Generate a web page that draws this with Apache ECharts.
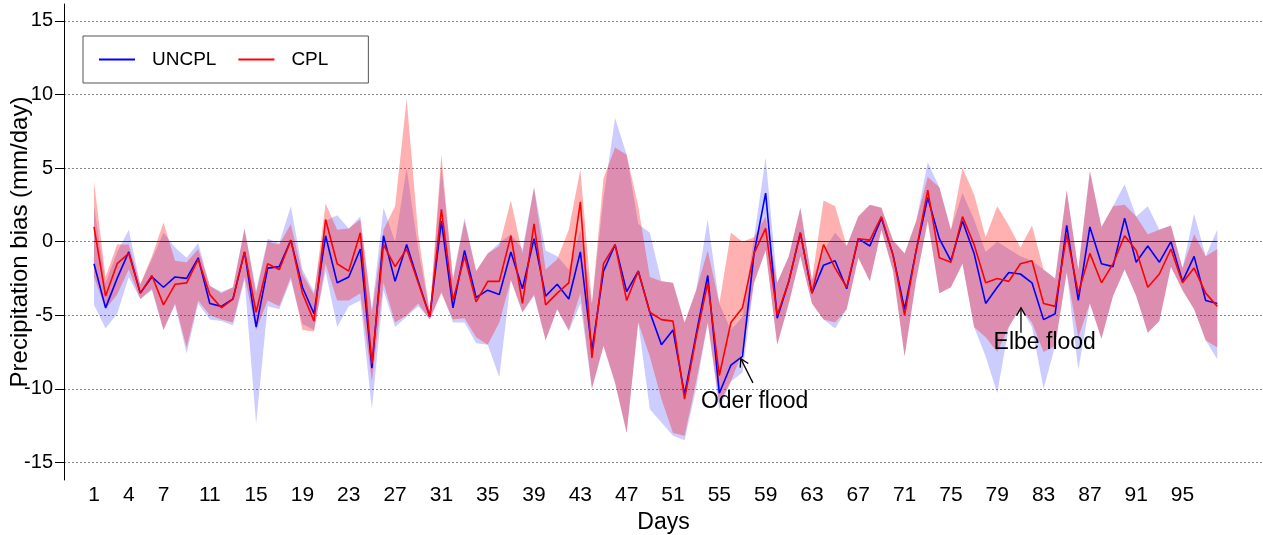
<!DOCTYPE html>
<html>
<head>
<meta charset="utf-8">
<title>Precipitation bias</title>
<script src="https://cdn.jsdelivr.net/npm/echarts@6/dist/echarts.min.js"></script>
<style>
  html, body { margin: 0; padding: 0; background: #fff; }
  #chart { width: 1263px; height: 535px; }
</style>
</head>
<body>
<div id="chart"></div>
<script>
// days of the run
var days = [1,2,3,4,5,6,7,8,9,10,11,12,13,14,15,16,17,18,19,20,
  21,22,23,24,25,26,27,28,29,30,31,32,33,34,35,36,37,38,39,40,
  41,42,43,44,45,46,47,48,49,50,51,52,53,54,55,56,57,58,59,60,
  61,62,63,64,65,66,67,68,69,70,71,72,73,74,75,76,77,78,79,80,
  81,82,83,84,85,86,87,88,89,90,91,92,93,94,95,96,97,98];
var dayTicks = [1,4,7,11,15,19,23,27,31,35,39,43,47,51,55,59,63,67,71,75,79,83,87,91,95];
var yTicks = [-15,-10,-5,0,5,10,15];

// ensemble mean bias (mm/day)
var uncpl = [-1.5,-4.5,-2.5,-0.7,-3.5,-2.4,-3.1,-2.4,-2.5,-1.1,
  -4.2,-4.4,-3.9,-0.7,-5.8,-1.8,-1.7,0.1,-3.1,-4.9,
  0.4,-2.8,-2.4,-0.5,-8.6,0.4,-2.7,-0.2,-2.7,-5.1,
  1.4,-4.5,-0.6,-3.8,-3.3,-3.6,-0.7,-3.2,0.2,-3.7,
  -2.9,-3.9,-0.7,-7.4,-2.0,-0.2,-3.4,-2.0,-4.8,-7.0,
  -6.0,-10.4,-6.3,-2.3,-10.3,-8.4,-7.8,-0.8,3.3,-5.2,
  -2.7,0.6,-3.5,-1.6,-1.3,-3.2,0.2,-0.3,1.6,-0.9,
  -4.6,-0.6,3.0,0.2,-1.3,1.4,-0.8,-4.2,-3.1,-2.1,
  -2.2,-2.8,-5.3,-4.9,1.1,-4.0,1.0,-1.5,-1.7,1.6,
  -1.4,-0.3,-1.4,0.0,-2.7,-1.0,-4.0,-4.2];
var cpl = [1.0,-3.7,-1.5,-0.8,-3.5,-2.3,-4.3,-2.9,-2.8,-1.2,
  -3.6,-4.5,-3.9,-0.7,-4.8,-1.5,-1.9,0.1,-3.5,-5.4,
  1.5,-1.5,-2.0,0.6,-8.3,-0.2,-1.7,-0.5,-2.8,-5.1,
  2.2,-4.0,-1.0,-4.1,-2.7,-2.7,0.4,-4.2,1.2,-4.3,
  -3.5,-2.8,2.7,-7.9,-1.5,-0.2,-4.0,-2.0,-4.8,-5.3,
  -5.4,-10.7,-6.5,-2.8,-9.1,-5.5,-4.5,-0.8,0.9,-5.0,
  -2.7,0.6,-3.5,-0.2,-1.8,-3.1,0.2,0.1,1.7,-0.9,
  -5.0,-0.6,3.5,-1.1,-1.4,1.7,-0.2,-2.8,-2.5,-2.7,
  -1.5,-1.3,-4.2,-4.4,0.5,-3.5,-0.8,-2.8,-1.5,0.4,
  -0.6,-3.1,-2.2,-0.5,-2.8,-1.8,-3.5,-4.4];

// ensemble spread (min / max)
var uncplLo = [-4.3,-5.9,-4.9,-2.4,-3.9,-3.3,-6.0,-4.3,-7.6,-4.2,
  -5.3,-5.4,-5.7,-2.6,-12.4,-4.4,-4.6,-2.6,-5.6,-6.0,
  -2.0,-5.8,-4.4,-4.0,-11.4,-3.3,-5.8,-5.1,-4.4,-5.3,
  -3.4,-5.5,-5.5,-6.9,-7.0,-9.2,-2.6,-4.8,-3.7,-6.7,
  -4.6,-6.1,-4.2,-10.0,-7.1,-9.6,-13.0,-5.5,-11.4,-12.3,
  -13.2,-13.5,-10.0,-5.5,-11.4,-9.5,-8.9,-2.8,-0.6,-7.0,
  -4.2,-1.0,-4.2,-5.3,-5.9,-4.6,-1.1,-2.7,0.8,-2.0,
  -7.8,-2.6,1.4,-3.5,-3.1,-1.5,-5.8,-7.8,-10.3,-5.8,
  -4.5,-5.8,-10.0,-7.1,-2.1,-8.7,-4.2,-6.6,-3.7,-1.9,
  -3.7,-6.2,-5.4,-1.7,-3.3,-4.6,-6.7,-8.0];
var uncplHi = [2.4,-2.8,-0.7,0.8,-2.9,-1.2,0.6,-0.4,-1.1,-0.1,
  -3.0,-3.4,-3.1,0.9,-3.3,0.2,-0.1,2.4,-1.9,-3.4,
  1.4,1.8,0.9,1.7,-4.6,2.3,0.0,5.0,-0.5,-4.8,
  5.1,-2.4,1.6,-2.0,-0.8,-0.1,0.5,-0.5,3.7,-0.6,
  -1.0,-1.9,0.8,-4.2,3.0,8.4,5.9,1.2,0.6,-2.7,
  -2.8,-5.5,-3.3,1.5,-4.2,-6.0,-5.1,0.3,5.7,-2.8,
  -1.0,2.3,-2.6,-0.6,0.6,-0.3,1.7,2.5,2.3,0.1,
  -0.8,1.4,5.4,3.7,0.8,3.3,1.5,-0.7,0.0,-0.5,
  -1.0,-1.3,-1.9,-2.5,3.5,-1.9,4.8,1.0,2.4,3.9,
  1.7,2.4,0.8,1.1,-1.8,1.9,-1.0,0.8];
var cplLo = [-2.4,-4.6,-3.6,-1.9,-3.9,-3.2,-6.0,-4.2,-7.2,-4.0,
  -5.0,-5.3,-5.5,-2.4,-6.0,-4.0,-4.4,-2.4,-6.0,-6.1,
  -1.5,-4.0,-4.0,-3.5,-9.5,-2.8,-5.5,-5.0,-4.2,-5.3,
  -3.5,-5.3,-5.2,-6.5,-7.0,-5.5,-2.6,-4.8,-3.6,-6.7,
  -4.6,-6.0,-3.5,-10.0,-7.1,-9.6,-13.0,-5.5,-7.8,-10.7,
  -13.0,-13.2,-9.5,-5.5,-11.0,-9.5,-7.5,-2.8,-0.6,-7.0,
  -4.2,-1.0,-4.2,-5.3,-5.5,-4.6,-1.1,-2.7,0.8,-2.0,
  -7.8,-2.6,1.4,-3.5,-3.1,-1.5,-5.8,-6.5,-7.5,-5.8,
  -4.5,-5.5,-7.5,-7.1,-2.1,-6.5,-4.2,-6.6,-3.7,-1.9,
  -3.7,-6.2,-5.4,-1.7,-3.3,-4.6,-6.7,-7.2];
var cplHi = [4.1,-2.4,-0.2,-0.2,-2.9,-1.0,1.3,-1.3,-1.4,-0.5,
  -3.0,-3.5,-3.1,0.9,-3.5,0.0,-0.2,1.2,-2.2,-3.6,
  2.6,0.8,0.9,1.5,-4.8,0.8,2.4,9.7,0.5,-4.8,
  5.9,-2.6,1.4,-2.0,-0.8,-0.3,2.8,-0.8,3.7,-1.9,
  -1.2,0.8,4.9,-4.2,4.3,6.4,5.9,2.4,-2.4,-2.7,
  -2.8,-5.5,-3.3,-0.6,-4.2,0.6,0.0,0.3,1.7,-2.8,
  -1.0,2.3,-2.6,2.8,2.4,-0.3,1.7,2.5,2.3,0.1,
  -0.8,1.4,4.4,3.7,0.8,5.0,3.2,0.3,2.4,1.1,
  -0.4,1.1,-1.9,-2.5,3.5,-1.9,4.8,1.0,2.4,2.5,
  1.7,0.5,0.8,1.1,-1.8,0.5,-1.0,-0.5];

// flood annotations
var annoText = ['Oder flood', 'Elbe flood'];
var annoHead = [[56.85, -7.95], [81.05, -4.5]];
var annoTail = [[57.9, -9.6], [81.05, -6.2]];
var annoTextAt = [[58.05, -10.86], [83.1, -6.85]];

var FONT = '"Liberation Sans", Arial, Helvetica, sans-serif';

function pairs(ys) {
  return days.map(function (d, i) { return [d, ys[i]]; });
}

// shaded min-max envelope, drawn as one polygon through the axis scales
function bandSeries(lo, hi, color) {
  return {
    type: 'custom',
    silent: true,
    data: days.map(function (d, i) { return [d, lo[i], hi[i]]; }),
    encode: { x: 0, y: [1, 2] },
    renderItem: function (params, api) {
      if (params.dataIndex !== 0) return null;
      var pts = [];
      for (var i = 0; i < days.length; i++) pts.push(api.coord([days[i], hi[i]]));
      for (var j = days.length - 1; j >= 0; j--) pts.push(api.coord([days[j], lo[j]]));
      return { type: 'polygon', shape: { points: pts }, style: { fill: color } };
    }
  };
}

var chart = echarts.init(document.getElementById('chart'), null, { renderer: 'canvas' });

var series = [
  bandSeries(uncplLo, uncplHi, 'rgba(0,0,255,0.2)'),
  bandSeries(cplLo, cplHi, 'rgba(255,0,0,0.31)')
];

series.push({
  name: 'UNCPL',
  type: 'line',
  data: pairs(uncpl),
  symbol: 'none',
  lineStyle: { color: '#0000ff', width: 1.6 },
  itemStyle: { color: '#0000ff' },
  emphasis: { disabled: true },
  markLine: {
    silent: true,
    symbol: 'none',
    label: { show: false },
    lineStyle: { color: '#333', type: 'solid', width: 1 },
    data: [[{ coord: [days[0], 0] }, { coord: [days[days.length - 1], 0] }]]
  }
});
series.push({
  name: 'CPL',
  type: 'line',
  data: pairs(cpl),
  symbol: 'none',
  lineStyle: { color: '#ff0000', width: 1.6 },
  itemStyle: { color: '#ff0000' },
  emphasis: { disabled: true }
});

// arrows + labels for the flood events
series.push({
  type: 'custom',
  silent: true,
  clip: false,
  z: 10,
  data: annoTextAt,
  renderItem: function (params, api) {
    var i = params.dataIndex;
    var h = api.coord(annoHead[i]);
    var t = api.coord(annoTail[i]);
    var p = api.coord(annoTextAt[i]);
    var ang = Math.atan2(t[1] - h[1], t[0] - h[0]);
    var L = 9, a = Math.PI / 6;
    var w1 = [h[0] + L * Math.cos(ang + a), h[1] + L * Math.sin(ang + a)];
    var w2 = [h[0] + L * Math.cos(ang - a), h[1] + L * Math.sin(ang - a)];
    return {
      type: 'group',
      children: [
        { type: 'line', shape: { x1: t[0], y1: t[1], x2: h[0], y2: h[1] },
          style: { stroke: '#000', lineWidth: 1.3 } },
        { type: 'polyline', shape: { points: [w1, h, w2] },
          style: { stroke: '#000', fill: null, lineWidth: 1.3 } },
        { type: 'text', x: p[0], y: p[1],
          style: { text: annoText[i], fill: '#000', font: '23px ' + FONT,
                   align: 'center', verticalAlign: 'middle',
                   textAlign: 'center', textVerticalAlign: 'middle' } }
      ]
    };
  }
});

chart.setOption({
  animation: false,
  textStyle: { fontFamily: FONT },
  grid: { left: 64, right: 0, top: 4, bottom: 55, containLabel: false, outerBoundsMode: 'none' },
  legend: {
    data: ['UNCPL', 'CPL'],
    left: 83,
    top: 36,
    orient: 'horizontal',
    icon: 'rect',
    borderColor: '#555',
    borderWidth: 1,
    padding: [14, 40, 14, 16],
    itemGap: 22,
    itemWidth: 36,
    itemHeight: 2,
    textStyle: { fontSize: 19, color: '#000', padding: [0, 0, 0, 12] }
  },
  xAxis: {
    type: 'value',
    min: -1.59,
    max: 101.95,
    name: 'Days',
    nameLocation: 'middle',
    nameGap: 28,
    nameTextStyle: { fontSize: 23, color: '#000' },
    axisLine: { show: false, onZero: false },
    axisTick: { show: false },
    splitLine: { show: false },
    axisLabel: { customValues: dayTicks, fontSize: 21, color: '#000', margin: 5 }
  },
  yAxis: {
    type: 'value',
    min: -16.2,
    max: 16.15,
    name: 'Precipitation bias (mm/day)',
    nameLocation: 'middle',
    nameGap: 32,
    nameMoveOverlap: false,
    nameTextStyle: { fontSize: 24, color: '#000' },
    axisLine: { show: true, onZero: false, lineStyle: { color: '#000', width: 1 } },
    axisTick: { show: true, inside: false, length: 9, customValues: yTicks,
                lineStyle: { color: '#000' } },
    axisLabel: { customValues: yTicks, fontSize: 20, color: '#000', margin: 11 },
    splitLine: { show: true, lineStyle: { color: '#888', type: [2, 2], width: 1 } }
  },
  series: series
});
</script>
</body>
</html>
